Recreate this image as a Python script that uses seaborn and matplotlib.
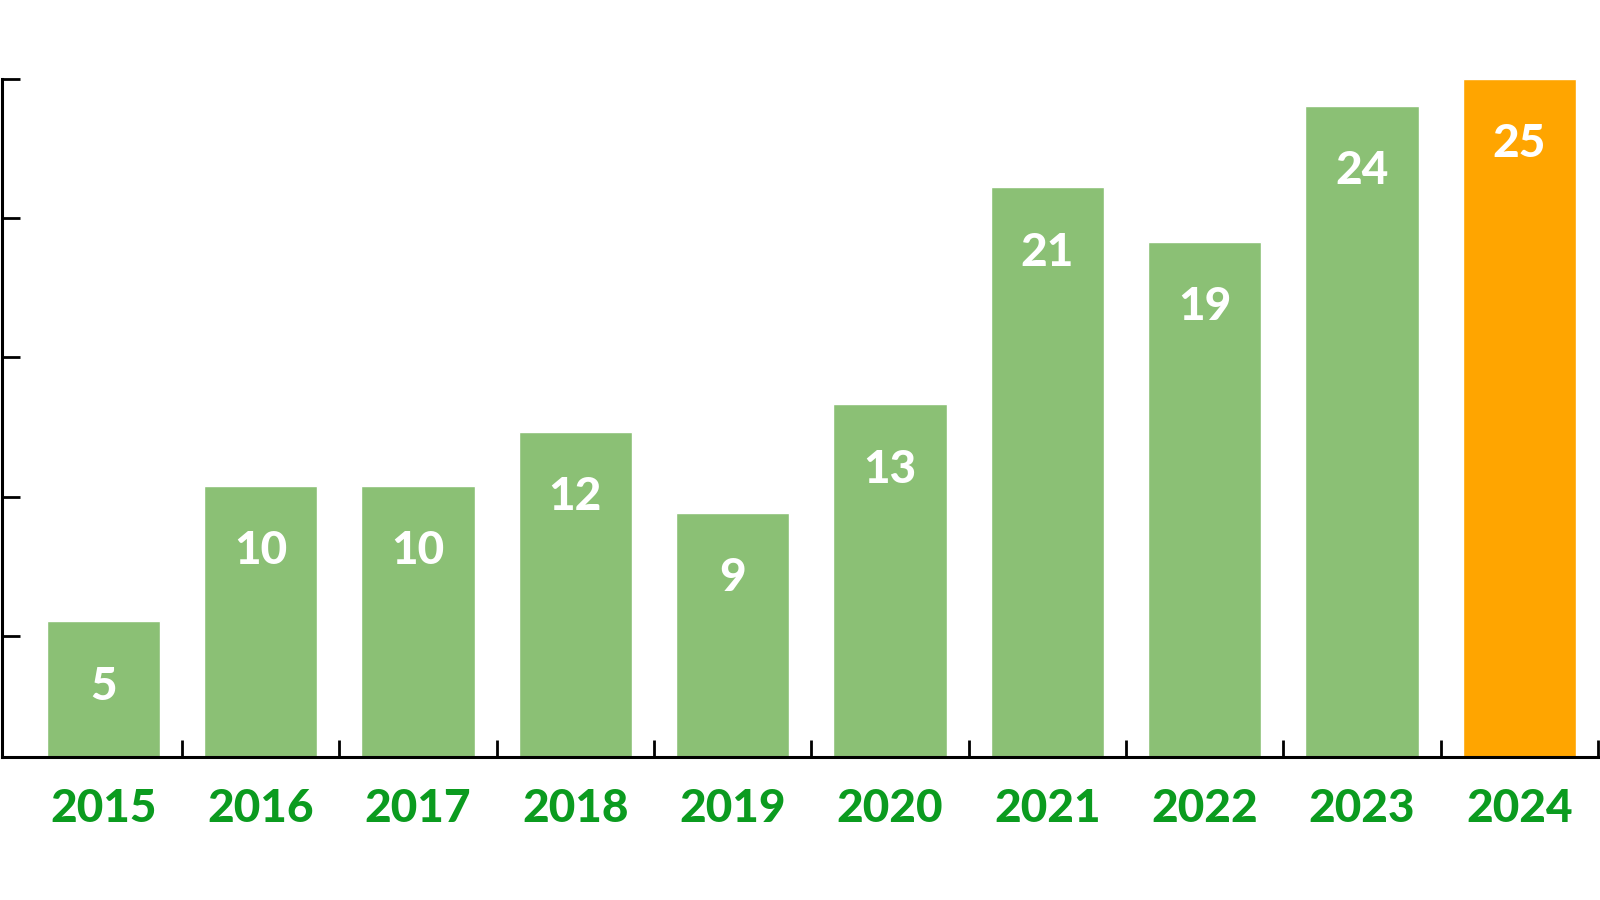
import matplotlib
matplotlib.use("Agg")
import matplotlib.pyplot as plt
import seaborn as sns
import numpy as np

years = ["2015", "2016", "2017", "2018", "2019", "2020", "2021", "2022", "2023", "2024"]
values = [5, 10, 10, 12, 9, 13, 21, 19, 24, 25]
bar_colors = ["#8BC075"] * 9 + ["#FFA500"]
ytick_marks = [4.45, 9.6, 14.74, 19.88, 25]

sns.set_theme(style="white")
plt.rcParams['font.family'] = ['Lato', 'DejaVu Sans']

fig = plt.figure(figsize=(16, 9), dpi=100)
ax = fig.add_axes([2/1600, 1 - 757/900, 1596/1600, (757 - 79)/900])

sns.barplot(x=years, y=values, hue=years, palette=bar_colors, legend=False,
            width=0.72, saturation=1, ax=ax)

ax.set_xlim(-0.644, 9.5)
ax.set_ylim(0, 25)
ax.set_yticks(ytick_marks)
ax.set_yticklabels([])
ax.tick_params(axis='y', direction='in', length=13, width=2, colors='black', left=True)

ax.set_xticks(range(len(years)))
ax.set_xticklabels(years)
ax.tick_params(axis='x', which='major', length=0, pad=22,
               labelsize=33, labelcolor='#0B9B1F')
for lbl in ax.get_xticklabels():
    lbl.set_fontweight('black')
ax.set_xticks(np.arange(0.5, len(years), 1), minor=True)
ax.tick_params(axis='x', which='minor', direction='in', length=12, width=2,
               colors='black', bottom=True)

for s in ['top', 'right']:
    ax.spines[s].set_visible(False)
for s in ['left', 'bottom']:
    ax.spines[s].set_visible(True)
    ax.spines[s].set_color('black')
    ax.spines[s].set_linewidth(2.2)

for i, v in enumerate(values):
    ax.annotate(str(v), xy=(i, v), xytext=(0, -47), textcoords='offset points',
                ha='center', va='center', color='white', fontsize=33,
                fontweight='black')

ax.set_xlabel('')
ax.set_ylabel('')
fig.savefig('out.png', dpi=100, facecolor='white')
